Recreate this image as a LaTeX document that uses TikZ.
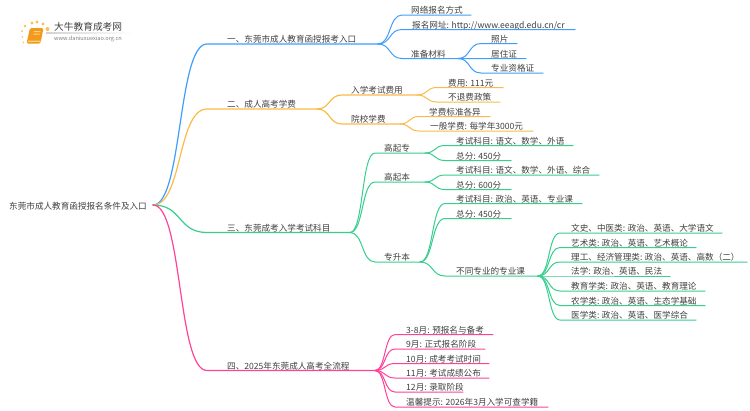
\documentclass[tikz,border=0pt]{standalone}
\usepackage{fontspec}
\setmainfont{Noto Sans CJK SC}
\usetikzlibrary{calc}
\definecolor{cblue}{HTML}{3F9DFB}
\definecolor{corange}{HTML}{FBBB4B}
\definecolor{cgreen}{HTML}{36CF8E}
\definecolor{cpink}{HTML}{FF4398}
\definecolor{ctext}{HTML}{404040}
\definecolor{bookdark}{HTML}{F29A1E}
\definecolor{booklight}{HTML}{FFD27A}
\definecolor{dotc}{HTML}{FBC04F}
\tikzset{
  lbl/.style={anchor=base west,inner sep=0pt,yshift=-1pt,text=ctext,font=\fontsize{8.6}{10}\selectfont},
  top/.style={line width=1.2pt,line cap=round},
  sub/.style={line width=1pt,line cap=round},
}
% #1 style, #2 parent coordinate, #3 child line start, #4 child line end
\newcommand\link[4]{\draw[#1] (#2) .. controls ($(#2)!.55!(#3 |- #2)$) and ($(#3)!.55!(#2 |- #3)$) .. (#3) -- (#4);}
\begin{document}
\begin{tikzpicture}[x=1pt,y=-1pt]
\useasboundingbox (0,0) rectangle (750,410);
\fill[white] (0,0) rectangle (750,410);
% logo
\foreach \px/\py/\pr in {25/26/1.3,32/23/1.6,37/22/1.6,43/24/1.7,47.5/29/2,22/31/1,22.5/37/.9,23.5/42.5/.8}
  \fill[dotc] (\px,\py) circle (\pr);
\fill[bookdark,rounded corners=1.5pt] (30,28) -- (43.5,28) -- (40.5,43.5) -- (26.5,43.5) -- cycle;
\fill[booklight] (28,40.6) -- (40.8,40.6) -- (40.4,41.8) -- (27.8,41.8) -- cycle;
\fill[booklight] (34,31) -- (40.5,31) -- (40.3,32) -- (33.8,32) -- cycle;
\fill[booklight] (33.6,33.6) -- (40,33.6) -- (39.8,34.6) -- (33.4,34.6) -- cycle;
\shade[left color=gray!35,right color=white] (46,32.6) rectangle (133,33.4);
\node[lbl,font=\fontsize{9.7}{11}\selectfont] (logo) at (54,29.5) {大牛教育成考网};
\node[lbl,font=\fontsize{5.6}{7}\selectfont,text=gray] (url) at (54,39.5) {www.daniuxuexiao.org.cn};
% root
\node[lbl] (root) at (9,208.3) {东莞市成人教育函授报名条件及入口};
\coordinate (r) at (153,205);
% ---- blue
\coordinate (ai) at (207,44); \coordinate (ao) at (378,44);
\node[lbl] (a) at (227,41) {一、东莞市成人教育函授报考入口};
\link{top,cblue}{r}{ai}{ao}
\coordinate (a1i) at (402,15); \coordinate (a1o) at (471,15);
\node[lbl] (a1) at (411,12.5) {网络报名方式};
\link{sub,cblue}{ao}{a1i}{a1o}
\coordinate (a2i) at (402,29.5); \coordinate (a2o) at (575,29.5);
\node[lbl] (a2) at (412,27) {报名网址: http://www.eeagd.edu.cn/cr};
\link{sub,cblue}{ao}{a2i}{a2o}
\coordinate (a3i) at (402,58.5); \coordinate (a3o) at (458,58.5);
\node[lbl] (a3) at (411,56) {准备材料};
\link{sub,cblue}{ao}{a3i}{a3o}
\coordinate (a31i) at (481,43.5); \coordinate (a31o) at (517,43.5);
\node[lbl] (a31) at (491,41) {照片};
\link{sub,cblue}{a3o}{a31i}{a31o}
\coordinate (a32i) at (481,58.5); \coordinate (a32o) at (526,58.5);
\node[lbl] (a32) at (491,56) {居住证};
\link{sub,cblue}{a3o}{a32i}{a32o}
\coordinate (a33i) at (481,73); \coordinate (a33o) at (543,73);
\node[lbl] (a33) at (491,70.5) {专业资格证};
\link{sub,cblue}{a3o}{a33i}{a33o}
% ---- orange
\coordinate (bi) at (207,109); \coordinate (bo) at (317,109);
\node[lbl] (b) at (227,106.5) {二、成人高考学费};
\link{top,corange}{r}{bi}{bo}
\coordinate (b1i) at (342,95); \coordinate (b1o) at (417,95);
\node[lbl] (b1) at (351,92.5) {入学考试费用};
\link{top,corange}{bo}{b1i}{b1o}
\coordinate (b2i) at (342,124); \coordinate (b2o) at (400,124);
\node[lbl] (b2) at (351,121.5) {院校学费};
\link{top,corange}{bo}{b2i}{b2o}
\coordinate (b11i) at (437,87.5); \coordinate (b11o) at (503,87.5);
\node[lbl] (b11) at (448,85) {费用: 111元};
\link{sub,corange}{b1o}{b11i}{b11o}
\coordinate (b12i) at (437,102); \coordinate (b12o) at (500,102);
\node[lbl] (b12) at (448,99.5) {不退费政策};
\link{sub,corange}{b1o}{b12i}{b12o}
\coordinate (b21i) at (419,116.5); \coordinate (b21o) at (490,116.5);
\node[lbl] (b21) at (429,114) {学费标准各异};
\link{sub,corange}{b2o}{b21i}{b21o}
\coordinate (b22i) at (419,131); \coordinate (b22o) at (533,131);
\node[lbl] (b22) at (430,128.5) {一般学费: 每学年3000元};
\link{sub,corange}{b2o}{b22i}{b22o}
% ---- green
\coordinate (ci) at (207,232.5); \coordinate (co) at (350,232.5);
\node[lbl] (c) at (227,230) {三、东莞成考入学考试科目};
\link{top,cgreen}{r}{ci}{co}
\coordinate (c1i) at (375,153); \coordinate (c1o) at (425,153);
\node[lbl] (c1) at (384,150.5) {高起专};
\link{sub,cgreen}{co}{c1i}{c1o}
\coordinate (c2i) at (375,182); \coordinate (c2o) at (425,182);
\node[lbl] (c2) at (384,179.5) {高起本};
\link{sub,cgreen}{co}{c2i}{c2o}
\coordinate (c3i) at (375,262); \coordinate (c3o) at (420,262);
\node[lbl] (c3) at (384,259.5) {专升本};
\link{sub,cgreen}{co}{c3i}{c3o}
\coordinate (c11i) at (445,145.5); \coordinate (c11o) at (573,145.5);
\node[lbl] (c11) at (456,143) {考试科目: 语文、数学、外语};
\link{sub,cgreen}{c1o}{c11i}{c11o}
\coordinate (c12i) at (445,160.5); \coordinate (c12o) at (511,160.5);
\node[lbl] (c12) at (456,158) {总分: 450分};
\link{sub,cgreen}{c1o}{c12i}{c12o}
\coordinate (c21i) at (445,175); \coordinate (c21o) at (599,175);
\node[lbl] (c21) at (456,172.5) {考试科目: 语文、数学、外语、综合};
\link{sub,cgreen}{c2o}{c21i}{c21o}
\coordinate (c22i) at (445,189.5); \coordinate (c22o) at (511,189.5);
\node[lbl] (c22) at (456,187) {总分: 600分};
\link{sub,cgreen}{c2o}{c22i}{c22o}
\coordinate (c31i) at (445,203.5); \coordinate (c31o) at (582,203.5);
\node[lbl] (c31) at (456,201) {考试科目: 政治、英语、专业课};
\link{sub,cgreen}{c3o}{c31i}{c31o}
\coordinate (c32i) at (445,218.5); \coordinate (c32o) at (511,218.5);
\node[lbl] (c32) at (456,216) {总分: 450分};
\link{sub,cgreen}{c3o}{c32i}{c32o}
\coordinate (c33i) at (445,276); \coordinate (c33o) at (538,276);
\node[lbl] (c33) at (456,273.5) {不同专业的专业课};
\link{sub,cgreen}{c3o}{c33i}{c33o}
\coordinate (d1i) at (560,233); \coordinate (d1o) at (722,233);
\node[lbl] (d1) at (571,230.5) {文史、中医类: 政治、英语、大学语文};
\link{sub,cgreen}{c33o}{d1i}{d1o}
\coordinate (d2i) at (560,247.5); \coordinate (d2o) at (696,247.5);
\node[lbl] (d2) at (571,245) {艺术类: 政治、英语、艺术概论};
\link{sub,cgreen}{c33o}{d2i}{d2o}
\coordinate (d3i) at (560,262); \coordinate (d3o) at (747,262);
\node[lbl] (d3) at (571,259.5) {理工、经济管理类: 政治、英语、高数（二）};
\link{sub,cgreen}{c33o}{d3i}{d3o}
\coordinate (d4i) at (560,276); \coordinate (d4o) at (670,276);
\node[lbl] (d4) at (571,273.5) {法学: 政治、英语、民法};
\link{sub,cgreen}{c33o}{d4i}{d4o}
\coordinate (d5i) at (560,291); \coordinate (d5o) at (705,291);
\node[lbl] (d5) at (571,288.5) {教育学类: 政治、英语、教育理论};
\link{sub,cgreen}{c33o}{d5i}{d5o}
\coordinate (d6i) at (560,305.5); \coordinate (d6o) at (705,305.5);
\node[lbl] (d6) at (571,303) {农学类: 政治、英语、生态学基础};
\link{sub,cgreen}{c33o}{d6i}{d6o}
\coordinate (d7i) at (560,320); \coordinate (d7o) at (696,320);
\node[lbl] (d7) at (571,317.5) {医学类: 政治、英语、医学综合};
\link{sub,cgreen}{c33o}{d7i}{d7o}
% ---- pink
\coordinate (ei) at (207,370.5); \coordinate (eo) at (375,370.5);
\node[lbl] (e) at (227,368) {四、2025年东莞成人高考全流程};
\link{top,cpink}{r}{ei}{eo}
\coordinate (e1i) at (395,334.5); \coordinate (e1o) at (493,334.5);
\node[lbl] (e1) at (406,332) {3-8月: 预报名与备考};
\link{sub,cpink}{eo}{e1i}{e1o}
\coordinate (e2i) at (395,349); \coordinate (e2o) at (485,349);
\node[lbl] (e2) at (406,346.5) {9月: 正式报名阶段};
\link{sub,cpink}{eo}{e2i}{e2o}
\coordinate (e3i) at (395,363.5); \coordinate (e3o) at (489,363.5);
\node[lbl] (e3) at (406,361) {10月: 成考考试时间};
\link{sub,cpink}{eo}{e3i}{e3o}
\coordinate (e4i) at (395,378); \coordinate (e4o) at (489,378);
\node[lbl] (e4) at (406,375.5) {11月: 考试成绩公布};
\link{sub,cpink}{eo}{e4i}{e4o}
\coordinate (e5i) at (395,392); \coordinate (e5o) at (463,392);
\node[lbl] (e5) at (406,389.5) {12月: 录取阶段};
\link{sub,cpink}{eo}{e5i}{e5o}
\coordinate (e6i) at (395,407); \coordinate (e6o) at (548,407);
\node[lbl] (e6) at (406,404.5) {温馨提示: 2026年3月入学可查学籍};
\link{sub,cpink}{eo}{e6i}{e6o}
\end{tikzpicture}
\end{document}
